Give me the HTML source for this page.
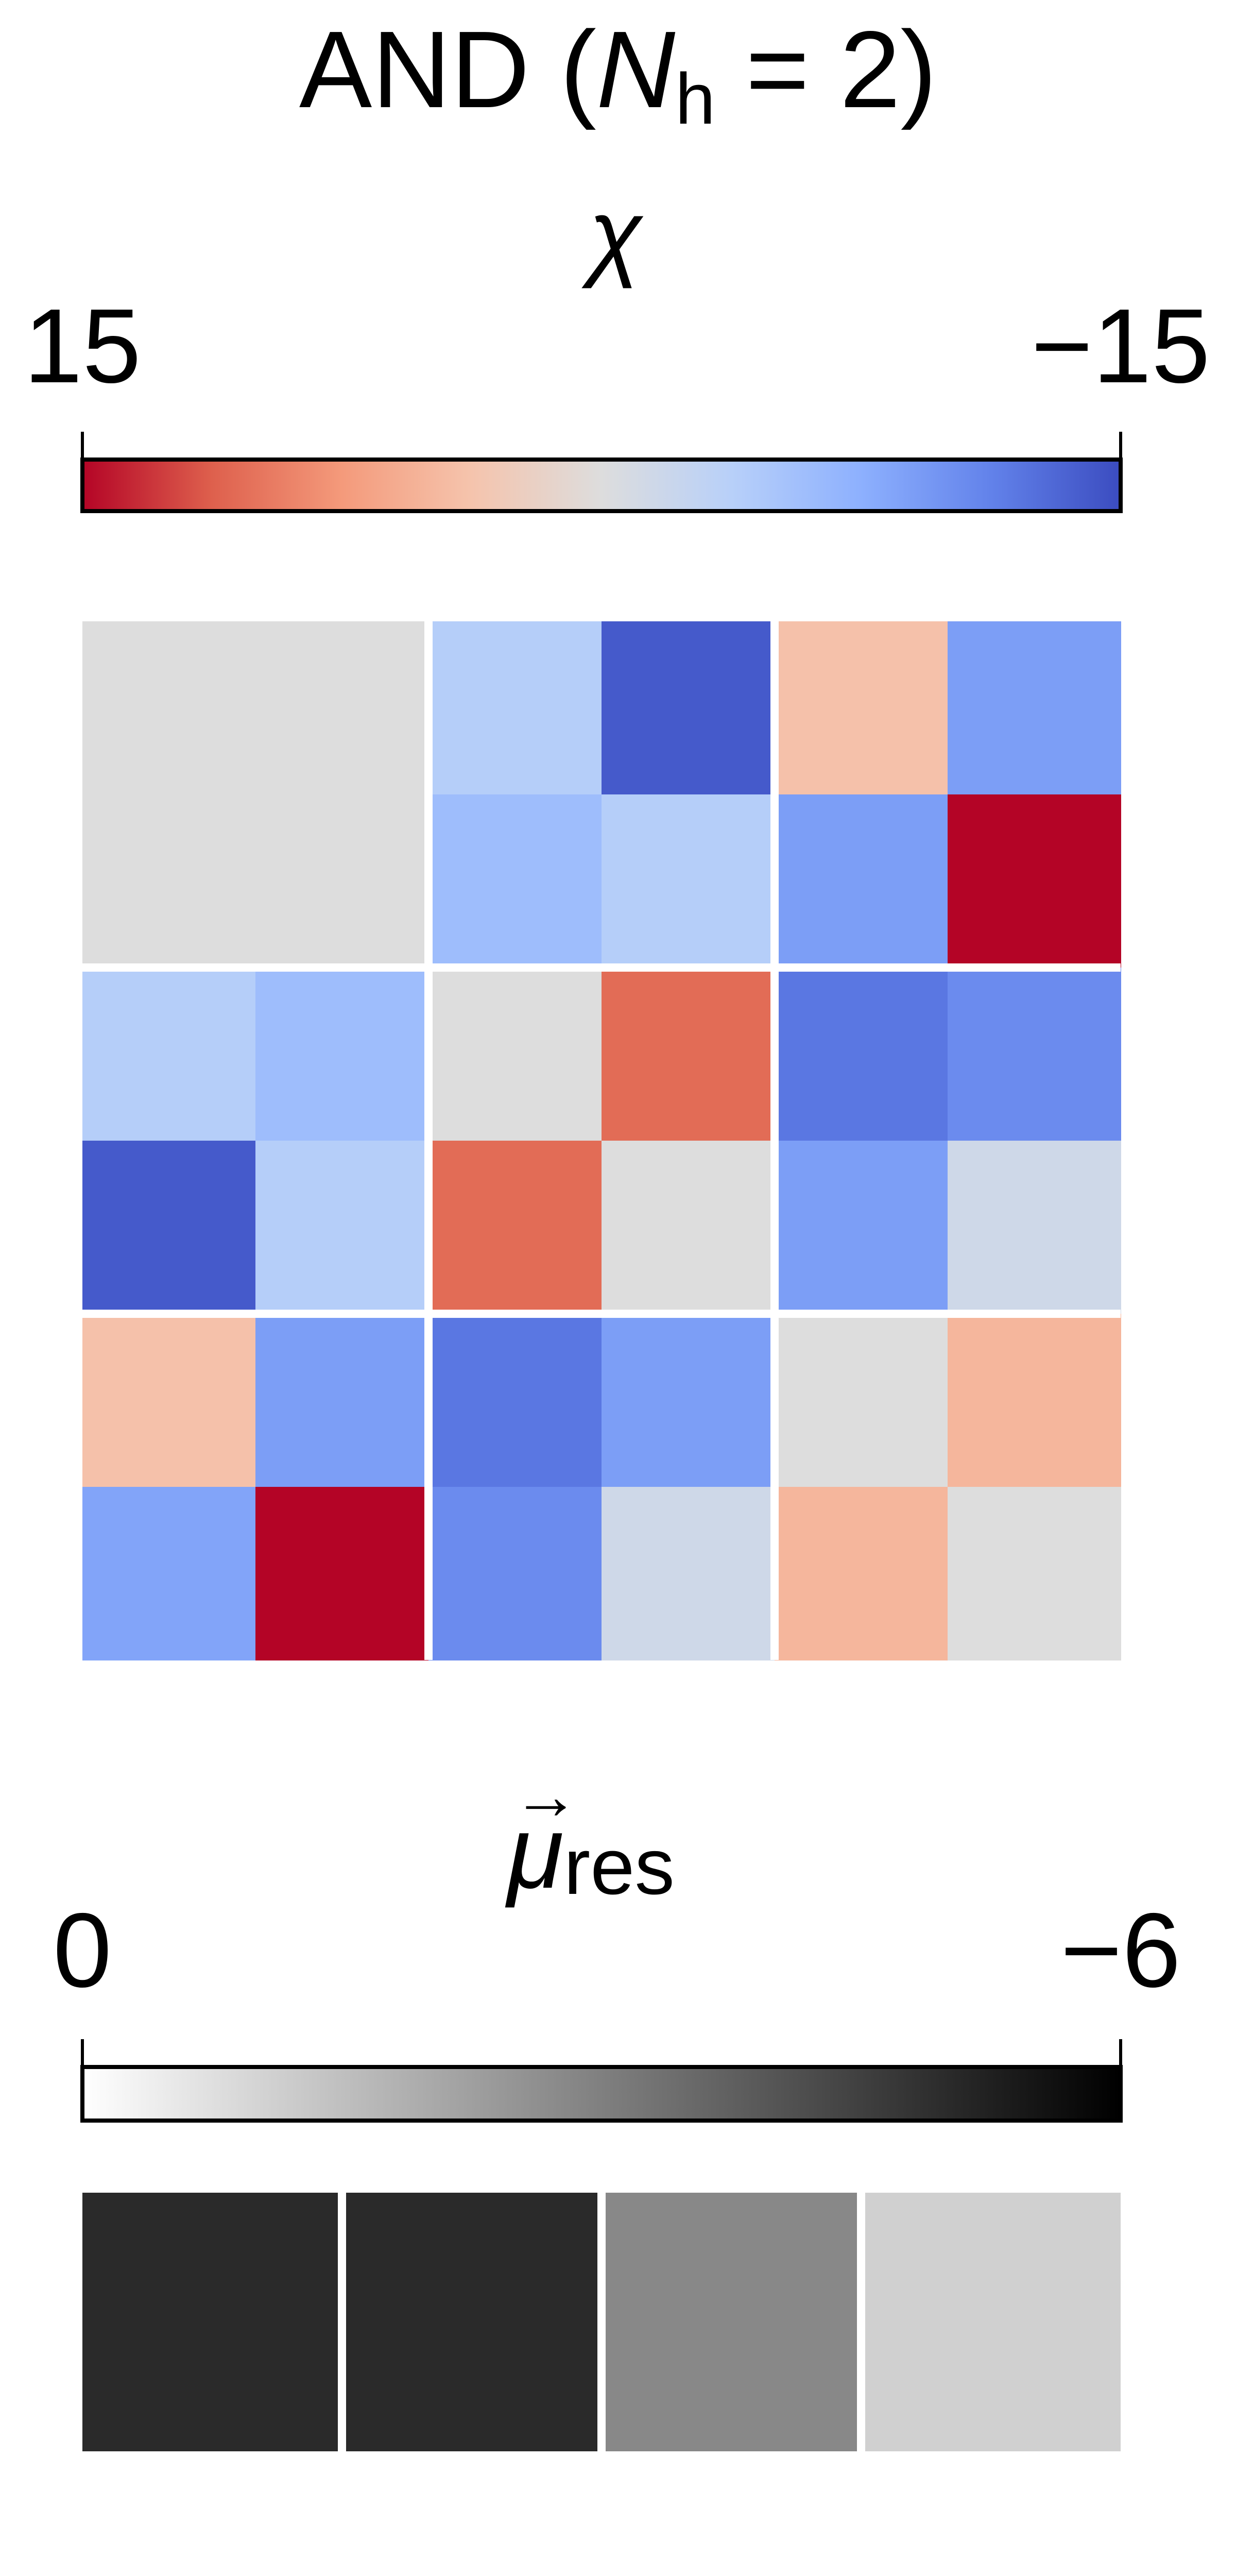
<!DOCTYPE html>
<html><head><meta charset="utf-8"><style>
html,body{margin:0;padding:0;background:#fff;overflow:hidden;width:2400px;height:5040px;}
svg{display:block;font-family:"Liberation Sans","DejaVu Sans",sans-serif;}
</style></head><body>
<svg id="fig" width="2400" height="5040" viewBox="0 0 2400 5040" xmlns="http://www.w3.org/2000/svg">
<defs>
<linearGradient id="cw" x1="0" x2="1" y1="0" y2="0">
<stop offset="0" stop-color="#b40426"/><stop offset="0.125" stop-color="#de604d"/>
<stop offset="0.25" stop-color="#f49a7b"/><stop offset="0.375" stop-color="#f5c4ad"/>
<stop offset="0.5" stop-color="#dddddd"/><stop offset="0.625" stop-color="#b8d0f9"/>
<stop offset="0.75" stop-color="#8db0fe"/><stop offset="0.875" stop-color="#6282ea"/>
<stop offset="1" stop-color="#3b4cc0"/></linearGradient>
<linearGradient id="gr" x1="0" x2="1" y1="0" y2="0"><stop offset="0" stop-color="#fff"/><stop offset="1" stop-color="#000"/></linearGradient>
</defs>
<text x="1200" y="208" font-size="212" text-anchor="middle">AND (<tspan font-style="italic">N</tspan><tspan font-size="140" dy="32">h</tspan><tspan dy="-32"> = 2)</tspan></text>
<text x="1195" y="520" font-size="190" font-style="italic" text-anchor="middle">χ</text>
<text x="160" y="742" font-size="205" text-anchor="middle">15</text>
<text x="2176" y="742" font-size="205" text-anchor="middle">−15</text>
<line x1="160" y1="838" x2="160" y2="892" stroke="#000" stroke-width="6"/>
<line x1="2176" y1="838" x2="2176" y2="892" stroke="#000" stroke-width="6"/>
<rect x="160" y="892" width="2016" height="100" fill="url(#cw)" stroke="#000" stroke-width="8"/>
<g id="heat"></g>
<text x="985" y="3664" font-size="200"><tspan font-style="italic">μ</tspan><tspan font-size="155" dy="12">res</tspan></text>
<text x="1060" y="3530" font-size="130" text-anchor="middle">→</text>
<text x="160" y="3856" font-size="205" text-anchor="middle">0</text>
<text x="2176" y="3856" font-size="205" text-anchor="middle">−6</text>
<line x1="160" y1="3958" x2="160" y2="4012" stroke="#000" stroke-width="6"/>
<line x1="2176" y1="3958" x2="2176" y2="4012" stroke="#000" stroke-width="6"/>
<rect x="160" y="4012" width="2016" height="104" fill="url(#gr)" stroke="#000" stroke-width="8"/>
<g id="mu"></g>
</svg>
<script>
const chiRows = [
 [0,0,-4,-14,4,-9],
 [0,0,-6,-4,-9,15],
 [-4,-6,0,10.5,-12,-10.5],
 [-14,-4,10.5,0,-9,-1.5],
 [4,-9,-12,-9,0,5],
 [-8.5,15,-10.5,-1.5,5,0]
];
const muValues = [-5.0,-5.0,-2.8,-1.1];
const chiMin = 15, chiMax = -15;
function coolwarm(v){
  const t = Math.max(0,Math.min(1,(v-chiMin)/(chiMax-chiMin)));
  const st=[[0,[180,4,38]],[0.125,[222,96,77]],[0.25,[244,154,123]],[0.375,[245,196,173]],[0.5,[221,221,221]],[0.625,[184,208,249]],[0.75,[141,176,254]],[0.875,[98,130,234]],[1,[59,76,192]]];
  for(let i=0;i<st.length-1;i++){const a=st[i],b=st[i+1];
    if(t<=b[0]){const f=(t-a[0])/(b[0]-a[0]);
      return 'rgb('+a[1].map((c,k)=>Math.round(c+(b[1][k]-c)*f)).join(',')+')';}}
}
const NS='http://www.w3.org/2000/svg';
const heat=document.getElementById('heat');
const x0=160,y0=1206,cs=336;
chiRows.forEach((row,r)=>row.forEach((v,c)=>{
  const e=document.createElementNS(NS,'rect');
  e.setAttribute('x',x0+c*cs);e.setAttribute('y',y0+r*cs);
  e.setAttribute('width',cs+1);e.setAttribute('height',cs+1);
  e.setAttribute('fill',coolwarm(v));
  
  
  heat.appendChild(e);
}));
[2,4].forEach(k=>{
  const a=document.createElementNS(NS,'rect');
  a.setAttribute('x',x0+k*cs-8);a.setAttribute('y',y0);a.setAttribute('width',16);a.setAttribute('height',6*cs);a.setAttribute('fill','#fff');
  
  
  heat.appendChild(a);
  const b=document.createElementNS(NS,'rect');
  b.setAttribute('x',x0);b.setAttribute('y',y0+k*cs-8);b.setAttribute('width',6*cs);b.setAttribute('height',16);b.setAttribute('fill','#fff');
  
  
  heat.appendChild(b);
});
const mu=document.getElementById('mu');
const muMin=0,muMax=-6,bw=2016/muValues.length;
muValues.forEach((v,i)=>{
  const t=Math.max(0,Math.min(1,(v-muMin)/(muMax-muMin)));
  const g=Math.round(255*(1-t));
  const e=document.createElementNS(NS,'rect');
  e.setAttribute('x',160+i*bw+(i?8:0));e.setAttribute('y',4256);
  e.setAttribute('width',bw-(i?8:0)-(i<muValues.length-1?8:0));e.setAttribute('height',502);
  e.setAttribute('fill','rgb('+g+','+g+','+g+')');
  
  
  mu.appendChild(e);
});
</script>
</body></html>
